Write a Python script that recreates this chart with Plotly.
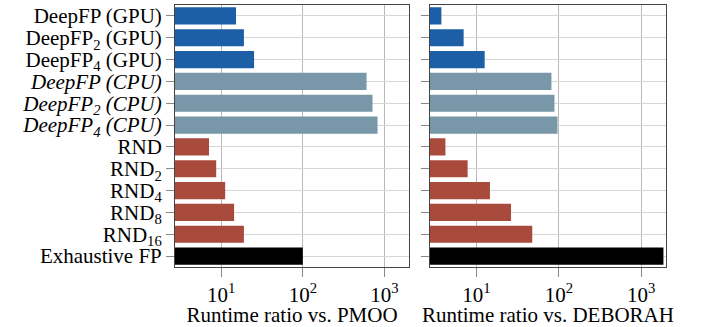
import plotly.graph_objects as go

categories = [
    "DeepFP (GPU)", "DeepFP<sub>2</sub> (GPU)", "DeepFP<sub>4</sub> (GPU)",
    "<i>DeepFP (CPU)</i>", "<i>DeepFP<sub>2</sub> (CPU)</i>", "<i>DeepFP<sub>4</sub> (CPU)</i>",
    "RND", "RND<sub>2</sub>", "RND<sub>4</sub>", "RND<sub>8</sub>", "RND<sub>16</sub>",
    "Exhaustive FP",
]
pmoo_ratio = [15.2, 19.0, 25.3, 603, 713, 822, 7.1, 8.7, 11.2, 14.4, 19.0, 100]
deborah_ratio = [3.76, 7.0, 12.6, 81.3, 88.5, 96.3, 4.21, 7.83, 14.6, 26.3, 47.6, 1858]
bar_colors = (["#1c5fa6"] * 3 + ["#7897a9"] * 3 + ["#a94b3c"] * 5 + ["#000000"])
tick_vals = [10, 100, 1000]
tick_text = ["10<sup>1</sup>", "10<sup>2</sup>", "10<sup>3</sup>"]
x_titles = ["Runtime ratio vs. PMOO", "Runtime ratio vs. DEBORAH"]

fig = go.Figure()
fig.add_trace(go.Bar(y=categories, x=pmoo_ratio, orientation="h", marker_color=bar_colors,
                     marker_line_width=0, xaxis="x", yaxis="y", showlegend=False))
fig.add_trace(go.Bar(y=categories, x=deborah_ratio, orientation="h", marker_color=bar_colors,
                     marker_line_width=0, xaxis="x2", yaxis="y2", showlegend=False))

font = dict(family="Liberation Serif", size=21, color="black")
xcommon = dict(type="log", range=[0.435, 3.30], tickmode="array", tickvals=tick_vals, ticktext=tick_text,
               showgrid=True, gridcolor="#b8b8b8", gridwidth=1,
               ticks="outside", ticklen=9, tickcolor="#888888",
               showline=True, linecolor="#444444", linewidth=1, mirror=True,
               zeroline=False, tickfont=font, automargin=False)
ycommon = dict(type="category", autorange="reversed", tickmode="array",
               tickvals=categories, ticktext=categories,
               showgrid=True, gridcolor="#d6d6d6",
               gridwidth=1, ticks="outside", ticklen=8, tickcolor="#888888",
               showline=True, linecolor="#444444", linewidth=1, mirror=True, tickfont=font,
               automargin=False)

fig.update_layout(
    width=701, height=327,
    margin=dict(l=175, r=35, t=5, b=60),
    paper_bgcolor="white", plot_bgcolor="white",
    bargap=0.21,
    hovermode=False,
    font=font,
    xaxis=dict(domain=[0, 0.4766], title=dict(text=x_titles[0], font=font, standoff=0), **xcommon),
    xaxis2=dict(domain=[0.519, 1], title=dict(text=x_titles[1], font=font, standoff=0), anchor="y2", **xcommon),
    yaxis=dict(anchor="x", **ycommon),
    yaxis2=dict(anchor="x2", showticklabels=False, **ycommon),
)

fig.write_html("out.html", config={"displayModeBar": False, "staticPlot": True},
               post_script="document.body.style.margin='0px';")
